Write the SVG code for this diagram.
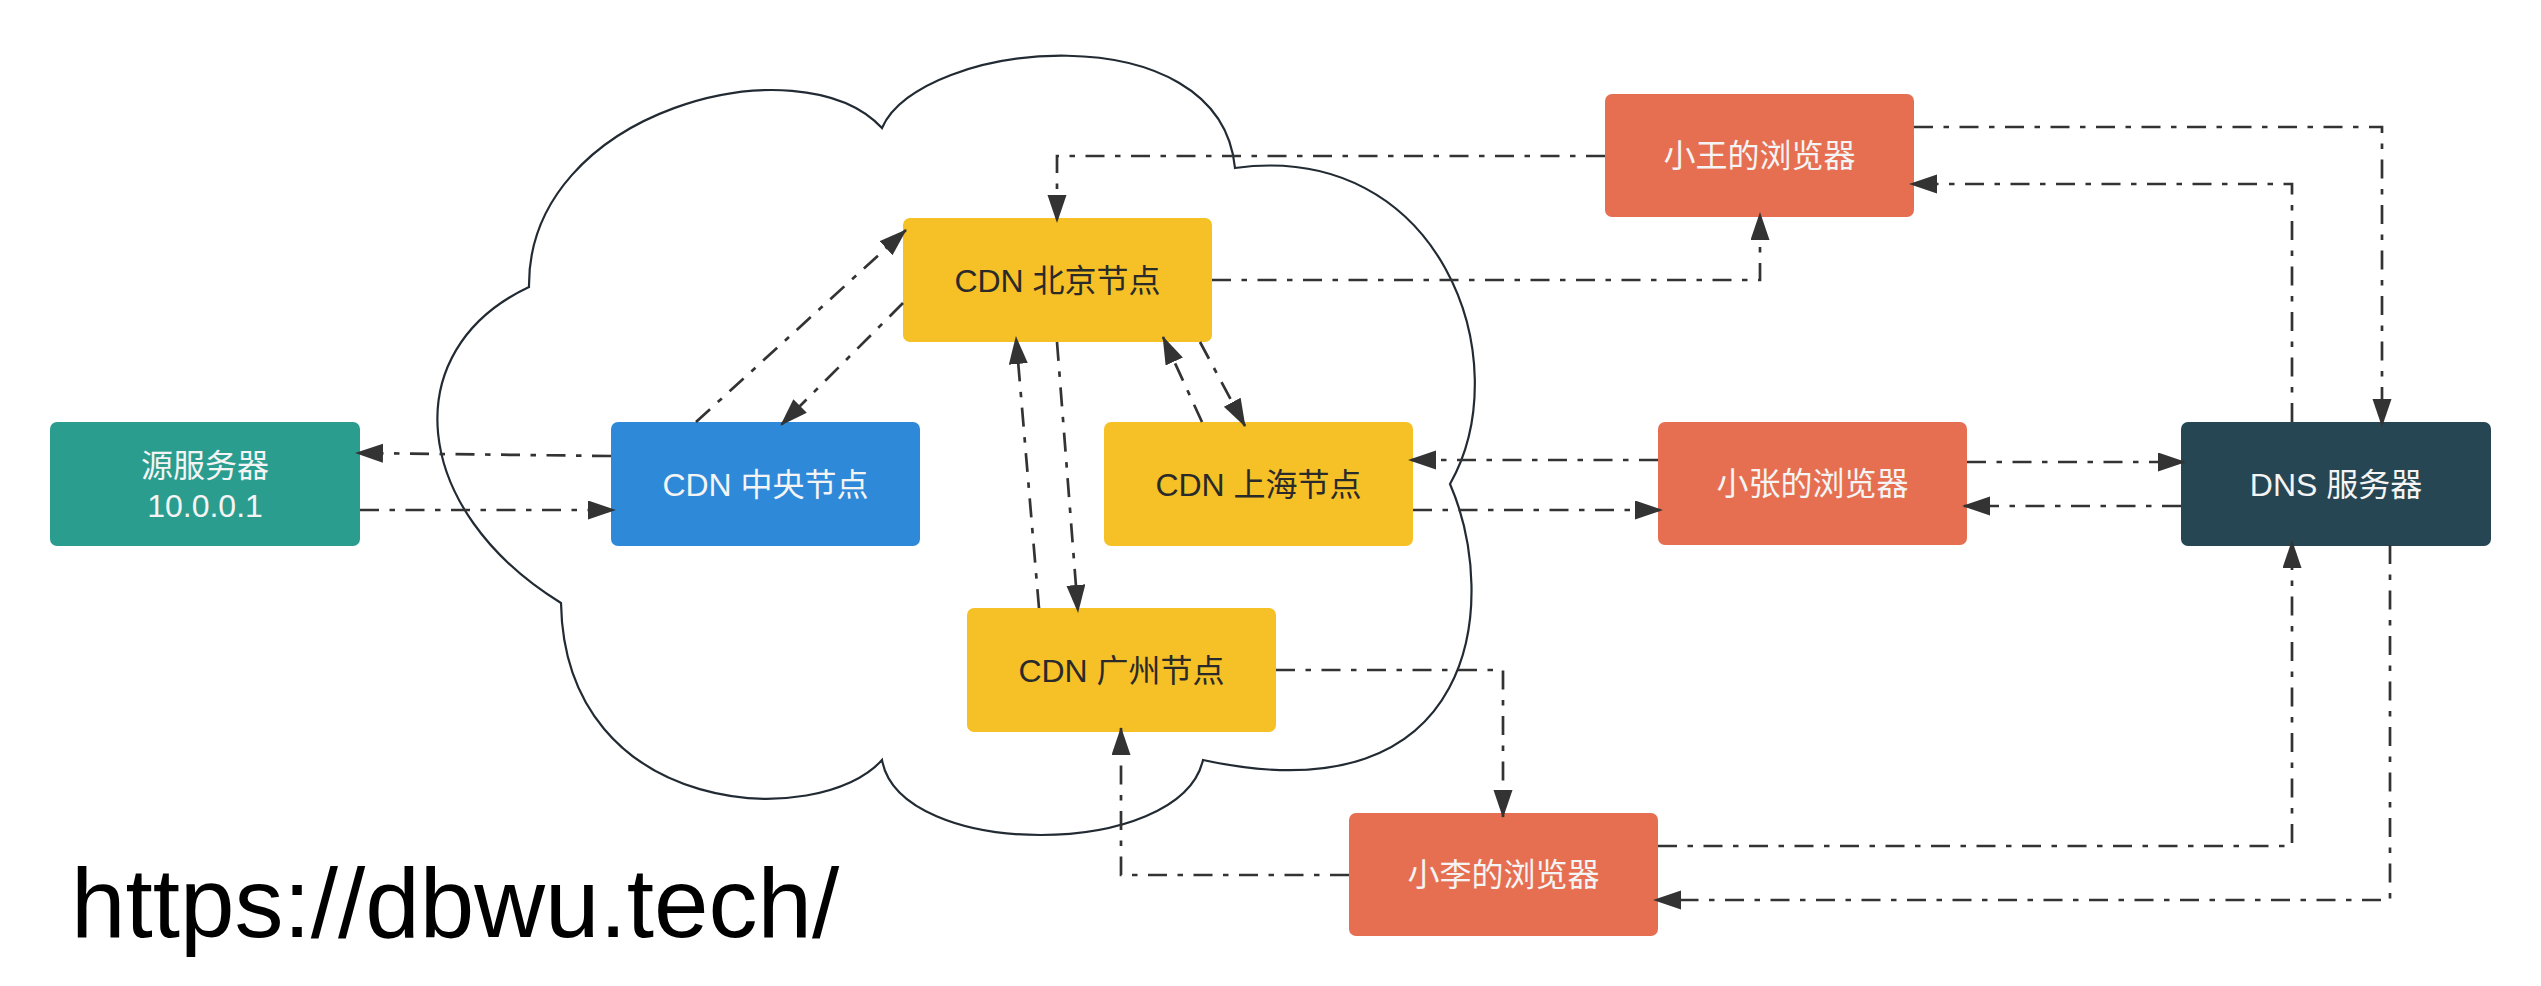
<svg xmlns="http://www.w3.org/2000/svg" width="2541" height="986" viewBox="0 0 2541 986">
<defs>
<style>
.node rect{rx:7px;ry:7px}
.t{font-family:"Liberation Sans","Noto Sans CJK SC",sans-serif;font-size:32px;text-anchor:middle}
.w{fill:#f4f4f4}
.d{fill:#2a2a2a}
.c{fill:none;stroke:#333333;stroke-width:2.7;stroke-dasharray:19 10.5 5.5 10.5}
</style>
<marker id="ah" markerUnits="userSpaceOnUse" markerWidth="30" markerHeight="20" refX="27" refY="9.5" orient="auto">
<path d="M0,0 L28,9.5 L0,19 Z" fill="#333333"/>
</marker>
</defs>
<rect x="0" y="0" width="2541" height="986" fill="#ffffff"/>
<path id="cloud" d="M882,128 C920,40 1220,10 1235,168 C1440,140 1520,360 1450,484 C1500,600 1480,820 1203,760 C1180,860 900,860 882,760 C820,830 565,820 561,603 C410,510 395,350 529,287 C527,110 800,40 882,128 Z" fill="none" stroke="#222b33" stroke-width="2.2"/>
<g id="n-origin" class="node"><rect x="50" y="422" width="310" height="124" fill="#2a9d8f"/><text class="t w" x="205" y="476.5">源服务器</text><text class="t w" x="205" y="516.5">10.0.0.1</text></g>
<g id="n-center" class="node"><rect x="611" y="422" width="309" height="124" fill="#2e89d9"/><text class="t w" x="765.5" y="495.5">CDN 中央节点</text></g>
<g id="n-beijing" class="node"><rect x="903" y="218" width="309" height="124" fill="#f6c126"/><text class="t d" x="1057.5" y="291.5">CDN 北京节点</text></g>
<g id="n-shanghai" class="node"><rect x="1104" y="422" width="309" height="124" fill="#f6c126"/><text class="t d" x="1258.5" y="495.5">CDN 上海节点</text></g>
<g id="n-guangzhou" class="node"><rect x="967" y="608" width="309" height="124" fill="#f6c126"/><text class="t d" x="1121.5" y="681.5">CDN 广州节点</text></g>
<g id="n-wang" class="node"><rect x="1605" y="94" width="309" height="123" fill="#e76f51"/><text class="t w" x="1759.5" y="167">小王的浏览器</text></g>
<g id="n-zhang" class="node"><rect x="1658" y="422" width="309" height="123" fill="#e76f51"/><text class="t w" x="1812.5" y="495">小张的浏览器</text></g>
<g id="n-li" class="node"><rect x="1349" y="813" width="309" height="123" fill="#e76f51"/><text class="t w" x="1503.5" y="886">小李的浏览器</text></g>
<g id="n-dns" class="node"><rect x="2181" y="422" width="310" height="124" fill="#264653"/><text class="t w" x="2336" y="495.5">DNS 服务器</text></g>
<g id="connectors">
<path class="c" marker-end="url(#ah)" d="M611,456 L356,453"/>
<path class="c" marker-end="url(#ah)" d="M360,510 L615,510"/>
<path class="c" marker-end="url(#ah)" d="M696,422 L906,230"/>
<path class="c" marker-end="url(#ah)" d="M903,303 L781,425"/>
<path class="c" marker-end="url(#ah)" d="M1605,156 L1057,156 L1057,222"/>
<path class="c" marker-end="url(#ah)" d="M1212,280 L1760,280 L1760,213"/>
<path class="c" marker-end="url(#ah)" d="M1914,127 L2382,127 L2382,426"/>
<path class="c" marker-end="url(#ah)" d="M2292,422 L2292,184 L1910,184"/>
<path class="c" marker-end="url(#ah)" d="M1967,462 L2185,462"/>
<path class="c" marker-end="url(#ah)" d="M2181,506 L1963,506"/>
<path class="c" marker-end="url(#ah)" d="M1658,460 L1409,460"/>
<path class="c" marker-end="url(#ah)" d="M1413,510 L1662,510"/>
<path class="c" marker-end="url(#ah)" d="M1200,342 L1245,426"/>
<path class="c" marker-end="url(#ah)" d="M1202,422 L1163,337"/>
<path class="c" marker-end="url(#ah)" d="M1039,608 L1016,337"/>
<path class="c" marker-end="url(#ah)" d="M1057,342 L1078,612"/>
<path class="c" marker-end="url(#ah)" d="M1276,670 L1503,670 L1503,817"/>
<path class="c" marker-end="url(#ah)" d="M1349,875 L1121,875 L1121,728"/>
<path class="c" marker-end="url(#ah)" d="M1658,846 L2292,846 L2292,541"/>
<path class="c" marker-end="url(#ah)" d="M2390,545 L2390,900 L1654,900"/>
</g>
<text id="url" x="71" y="937" style="font-family:'Liberation Sans',Arial,sans-serif;font-size:98px" fill="#000000">https://dbwu.tech/</text>
</svg>
